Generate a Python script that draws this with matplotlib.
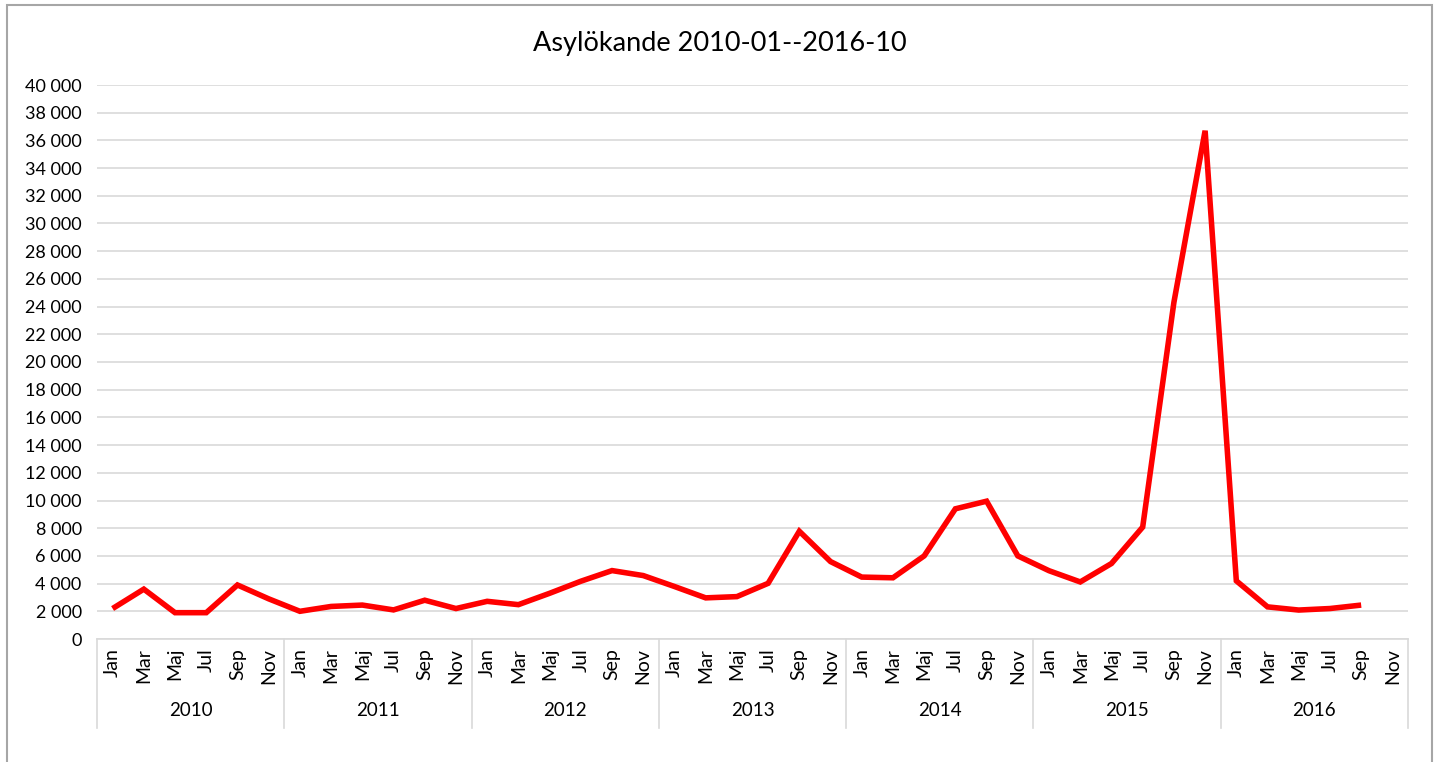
import matplotlib.pyplot as plt
from matplotlib.patches import Rectangle
from matplotlib.ticker import FuncFormatter
import matplotlib.transforms as mtransforms

plt.rcParams['font.family'] = ['Lato', 'DejaVu Sans']

# Data (every second month, as in the source chart)
years = ['2010', '2011', '2012', '2013', '2014', '2015', '2016']
months = ['Jan', 'Mar', 'Maj', 'Jul', 'Sep', 'Nov']
values = [
    2200, 3600, 1900, 1900, 3900, 2900,      # 2010
    2000, 2350, 2450, 2100, 2800, 2200,      # 2011
    2720, 2480, 3300, 4170, 4940, 4580,      # 2012
    3790, 2970, 3060, 4020, 7780, 5590,      # 2013
    4470, 4420, 6000, 9400, 9950, 6000,      # 2014
    4930, 4120, 5450, 8080, 24300, 36700,    # 2015
    4200, 2320, 2090, 2200, 2450,            # 2016
]
title = 'Asylökande 2010-01--2016-10'

W, H = 1439, 762
fig = plt.figure(figsize=(W / 100, H / 100), dpi=100)

# plot area in pixels
x0, x1, y_top, y_bot = 97, 1408, 85, 639
ax = fig.add_axes([x0 / W, (H - y_bot) / H, (x1 - x0) / W, (y_bot - y_top) / H])

n_cat = len(years) * len(months)
ax.plot(range(len(values)), values, color='#ff0000', lw=4, solid_joinstyle='miter',
        solid_capstyle='butt', zorder=3)

ax.set_xlim(-0.5, n_cat - 0.5)
ax.set_ylim(0, 40000)
ax.set_yticks(range(0, 40001, 2000))
ax.yaxis.set_major_formatter(FuncFormatter(lambda v, p: f'{int(v):,}'.replace(',', ' ')))
ax.grid(axis='y', color='#d9d9d9', lw=1.2, zorder=0)
ax.tick_params(axis='y', length=0, pad=11, labelsize=13, colors='#000000')
ax.set_xticks([])
for s in ['top', 'right', 'left']:
    ax.spines[s].set_visible(False)
ax.spines['bottom'].set_color('#d9d9d9')
ax.spines['bottom'].set_linewidth(1.2)

# multi-level category axis
trans = mtransforms.blended_transform_factory(ax.transData, ax.transAxes)
ah = y_bot - y_top
for i in range(n_cat):
    ax.text(i, -9 / ah, months[i % len(months)], rotation=90, ha='center', va='top',
            fontsize=14, transform=trans)
for j, yr in enumerate(years):
    xc = j * len(months) + (len(months) - 1) / 2
    ax.text(xc, -(711 - y_bot) / ah, yr, ha='center', va='center', fontsize=13.5,
            transform=trans)
for j in range(len(years) + 1):
    xb = j * len(months) - 0.5
    ax.plot([xb, xb], [0, -(728 - y_bot) / ah], color='#d9d9d9', lw=1.2,
            transform=trans, clip_on=False)

fig.text(0.5, 1 - 43 / H, title, ha='center', va='center', fontsize=19.5)

# outer chart border
fig.patches.append(Rectangle((7 / W, -0.01), (1432 - 7) / W, (H - 5) / H + 0.01,
                             transform=fig.transFigure, fill=False,
                             edgecolor='#a6a6a6', lw=1.5))

fig.savefig('out.png', dpi=100)
